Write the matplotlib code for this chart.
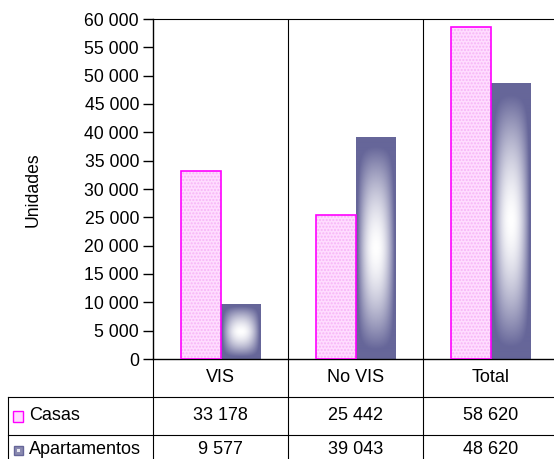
import numpy as np
import matplotlib.pyplot as plt
from matplotlib.lines import Line2D
from matplotlib.patches import Rectangle

plt.rcParams['font.family'] = ['Liberation Sans', 'DejaVu Sans']

categories = ['VIS', 'No VIS', 'Total']
casas = [33178, 25442, 58620]
apartamentos = [9577, 39043, 48620]
series_names = ['Casas', 'Apartamentos']
yticks = list(range(0, 60001, 5000))

W, H = 554, 459
fig = plt.figure(figsize=(W / 100, H / 100), dpi=100)


def fx(px):
    return px / W


def fy(py):
    return 1 - py / H


# plot area in pixels (right edge runs just past the picture)
L, R, T, B = 153, 558, 19, 359
ax = fig.add_axes([fx(L), fy(B), fx(R) - fx(L), fy(T) - fy(B)])

bw = 0.29
x = np.arange(len(categories))

# Casas: light pink dotted fill, magenta outline
ax.bar(x - bw / 2, casas, bw, color='#ffdcff', hatch='.....', edgecolor='#f7b3f7',
       linewidth=0, zorder=2)
ax.bar(x - bw / 2, casas, bw, fill=False, edgecolor='#ff00ff', linewidth=1.2, zorder=3)

# Apartamentos: gradient from dark slate to white in the centre
dark = np.array([102, 102, 153]) / 255
n = 200
g = np.abs(np.linspace(-1, 1, n))
GX, GY = np.meshgrid(g, g)
t = 1 - (1 - GX ** 2.2) * (1 - GY ** 1.6)
t = np.clip(t * 1.15, 0, 1)
img = (1 - t)[..., None] * 1 + t[..., None] * dark
bars = ax.bar(x + bw / 2, apartamentos, bw, color='none', edgecolor='none', zorder=2)
for b in bars:
    x0, y0 = b.get_x(), b.get_y()
    ax.imshow(img, extent=[x0, x0 + b.get_width(), y0, y0 + b.get_height()],
              aspect='auto', zorder=2, interpolation='bilinear')
ax.set_xlim(-0.5, 2.5)
ax.set_ylim(0, 60000)

ax.set_yticks(yticks)
ax.set_yticklabels([f"{v:,}".replace(",", " ") for v in yticks], fontsize=12.7)
ax.tick_params(axis='y', direction='out', length=7, width=1, pad=3)
ax.set_xticks([])
for v in [0.5, 1.5]:
    ax.axvline(v, color='black', linewidth=0.8, zorder=1)
ax.spines['top'].set_linewidth(0.8)
ax.spines['right'].set_visible(False)
ax.spines['left'].set_linewidth(1.0)
ax.spines['bottom'].set_linewidth(1.0)

fig.text(fx(33), fy(190), 'Unidades', rotation=90, fontsize=12.7,
         ha='center', va='center')

# data table
col_edges = [153, 288, 423, 558]
row_lines = [397, 435]
line_kw = dict(color='black', linewidth=0.8)
for xe in col_edges[:-1]:
    fig.add_artist(Line2D([fx(xe), fx(xe)], [fy(359), fy(459)], **line_kw))
fig.add_artist(Line2D([fx(8), fx(8)], [fy(397), fy(459)], **line_kw))
for yr in row_lines:
    fig.add_artist(Line2D([fx(8), fx(554)], [fy(yr), fy(yr)], **line_kw))

fs = 13
row_y = [378, 415, 449]
for i, c in enumerate(categories):
    cx = (col_edges[i] + col_edges[i + 1]) / 2
    fig.text(fx(cx), fy(row_y[0]), c, fontsize=fs, ha='center', va='center')
    fig.text(fx(cx), fy(row_y[1]), f"{casas[i]:,}".replace(",", " "),
             fontsize=fs, ha='center', va='center')
    fig.text(fx(cx), fy(row_y[2]), f"{apartamentos[i]:,}".replace(",", " "),
             fontsize=fs, ha='center', va='center')

# legend keys inside the table
fig.add_artist(Rectangle((fx(13), fy(422)), fx(10), fy(411) - fy(422),
                         facecolor='#ffdcff', edgecolor='#ff00ff', linewidth=1.0))
fig.add_artist(Rectangle((fx(14), fy(455)), fx(9), fy(446) - fy(455),
                         facecolor='#8a8ab0', edgecolor='#666699', linewidth=1.0))
fig.add_artist(Rectangle((fx(17), fy(452)), fx(3), fy(449) - fy(452),
                         facecolor='#e8e8f0', edgecolor='none'))
fig.text(fx(29), fy(row_y[1]), series_names[0], fontsize=fs, ha='left', va='center')
fig.text(fx(29), fy(row_y[2]), series_names[1], fontsize=fs, ha='left', va='center')

fig.savefig('out.png', dpi=100)
